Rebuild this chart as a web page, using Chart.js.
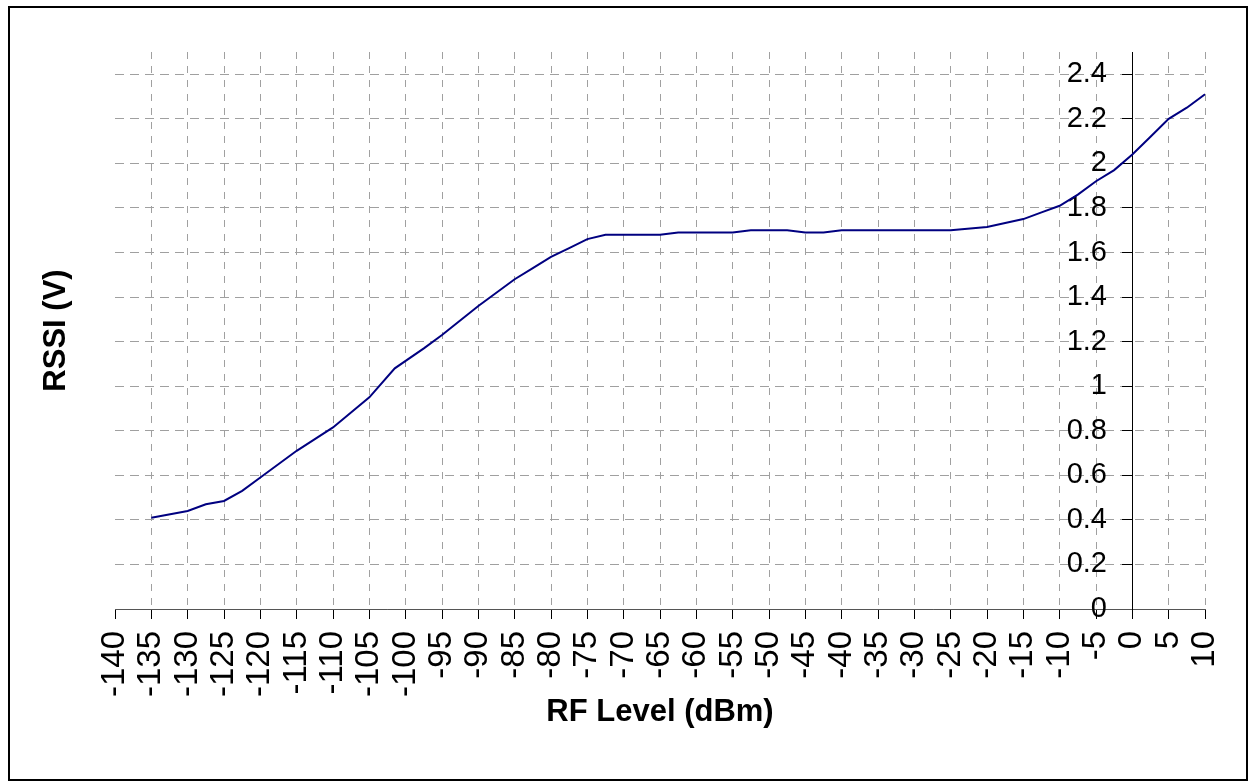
<!DOCTYPE html>
<html>
<head>
<meta charset="utf-8">
<script src="https://cdn.jsdelivr.net/npm/chart.js@4"></script>
<style>
  html, body { margin: 0; padding: 0; background: #fff; overflow: hidden; }
  #wrap { width: 1249px; height: 782px; position: relative; }
  canvas { display: block; }
</style>
</head>
<body>
<div id="wrap"><canvas id="rssiChart"></canvas></div>
<script>
// RF level (dBm) and measured RSSI (V)
const rfLevel = [-135, -130, -127.5, -125, -122.5, -120, -115, -110, -105, -101.5, -97.5, -95, -90,
  -85, -82.5, -80, -77.5, -75, -72.5, -65, -62.5, -55, -52.5, -47.5, -45, -42.5, -40,
  -25, -20, -15, -12.5, -10, -7.5, -5, -2.5, 0, 2.5, 5, 7.5, 10];
const rssi = [0.41, 0.44, 0.47, 0.485, 0.53, 0.59, 0.71, 0.815, 0.95, 1.08, 1.17, 1.23, 1.36,
  1.48, 1.53, 1.58, 1.62, 1.66, 1.68, 1.68, 1.69, 1.69, 1.70, 1.70, 1.69, 1.69, 1.70,
  1.70, 1.715, 1.75, 1.78, 1.81, 1.86, 1.92, 1.97, 2.04, 2.12, 2.20, 2.25, 2.31];

const xMin = -140, xMax = 10, xStep = 5;
const yMin = 0, yMax = 2.5, yStep = 0.2;

const FONT = "Arial, 'Liberation Sans', sans-serif";

// outer frame around the whole chart
const framePlugin = {
  id: "frame",
  afterDraw(chart) {
    const ctx = chart.ctx;
    ctx.save();
    ctx.strokeStyle = "#000";
    ctx.lineWidth = 2;
    ctx.strokeRect(9, 7, 1238, 773);
    ctx.restore();
  },
};

const points = rfLevel.map((x, i) => ({ x: x, y: rssi[i] }));

new Chart(document.getElementById("rssiChart"), {
  type: "scatter",
  data: {
    datasets: [
      {
        label: "RSSI",
        data: points,
        showLine: true,
        borderColor: "#000080",
        borderWidth: 2,
        pointRadius: 0,
        tension: 0,
      },
    ],
  },
  options: {
    responsive: true,
    maintainAspectRatio: false,
    animation: false,
    layout: { padding: { top: 52, right: 44, bottom: 49, left: 34 } },
    plugins: { legend: { display: false }, tooltip: { enabled: false } },
    scales: {
      x: {
        type: "linear",
        position: "bottom",
        min: xMin,
        max: xMax,
        afterFit: (s) => {
          s.height = 124;
          s.paddingLeft = 0;
          s.paddingRight = 0;
        },
        ticks: {
          stepSize: xStep,
          autoSkip: false,
          maxRotation: 90,
          minRotation: 90,
          padding: 12,
          color: "#000",
          font: { family: FONT, size: 33 },
          callback: (v) => String(v),
        },
        grid: {
          color: (c) => (c.tick && c.tick.value === xMin ? "rgba(0,0,0,0)" : "#a0a0a0"),
          lineWidth: 1,
          tickColor: "#000",
          tickLength: 10,
        },
        border: { color: "#555", width: 1, dash: [7, 7] },
        title: {
          display: true,
          text: "RF Level (dBm)",
          color: "#000",
          font: { family: FONT, size: 31, weight: "bold" },
          padding: { top: 0, bottom: 2 },
        },
      },
      // axis line, ticks and grid, crossing the x axis at 0 dBm
      y: {
        type: "linear",
        position: { x: 0 },
        min: yMin,
        max: yMax,
        ticks: { stepSize: yStep, includeBounds: false, display: false },
        grid: {
          color: "#a0a0a0",
          lineWidth: 1,
          tickColor: "#000",
          tickLength: 10,
        },
        border: { color: "#000", width: 1, dash: [9, 6] },
      },
      // tick labels of the y axis, drawn just left of the 0 dBm line
      yLabels: {
        type: "linear",
        position: "right",
        min: yMin,
        max: yMax,
        afterFit: (s) => { s.width = 0; },
        ticks: {
          stepSize: yStep,
          includeBounds: false,
          mirror: true,
          padding: -98,
          color: "#000",
          font: { family: FONT, size: 29 },
          callback: (v) => String(+v.toFixed(1)),
        },
        grid: { display: false },
        border: { display: false },
      },
      yTitle: {
        type: "linear",
        position: "left",
        min: yMin,
        max: yMax,
        afterFit: (s) => { s.width = 81; },
        ticks: { display: false },
        grid: { display: false },
        border: { display: false },
        title: {
          display: true,
          text: "RSSI (V)",
          color: "#000",
          font: { family: FONT, size: 31, weight: "bold" },
          padding: 4,
        },
      },
    },
  },
  plugins: [framePlugin],
});
</script>
</body>
</html>
